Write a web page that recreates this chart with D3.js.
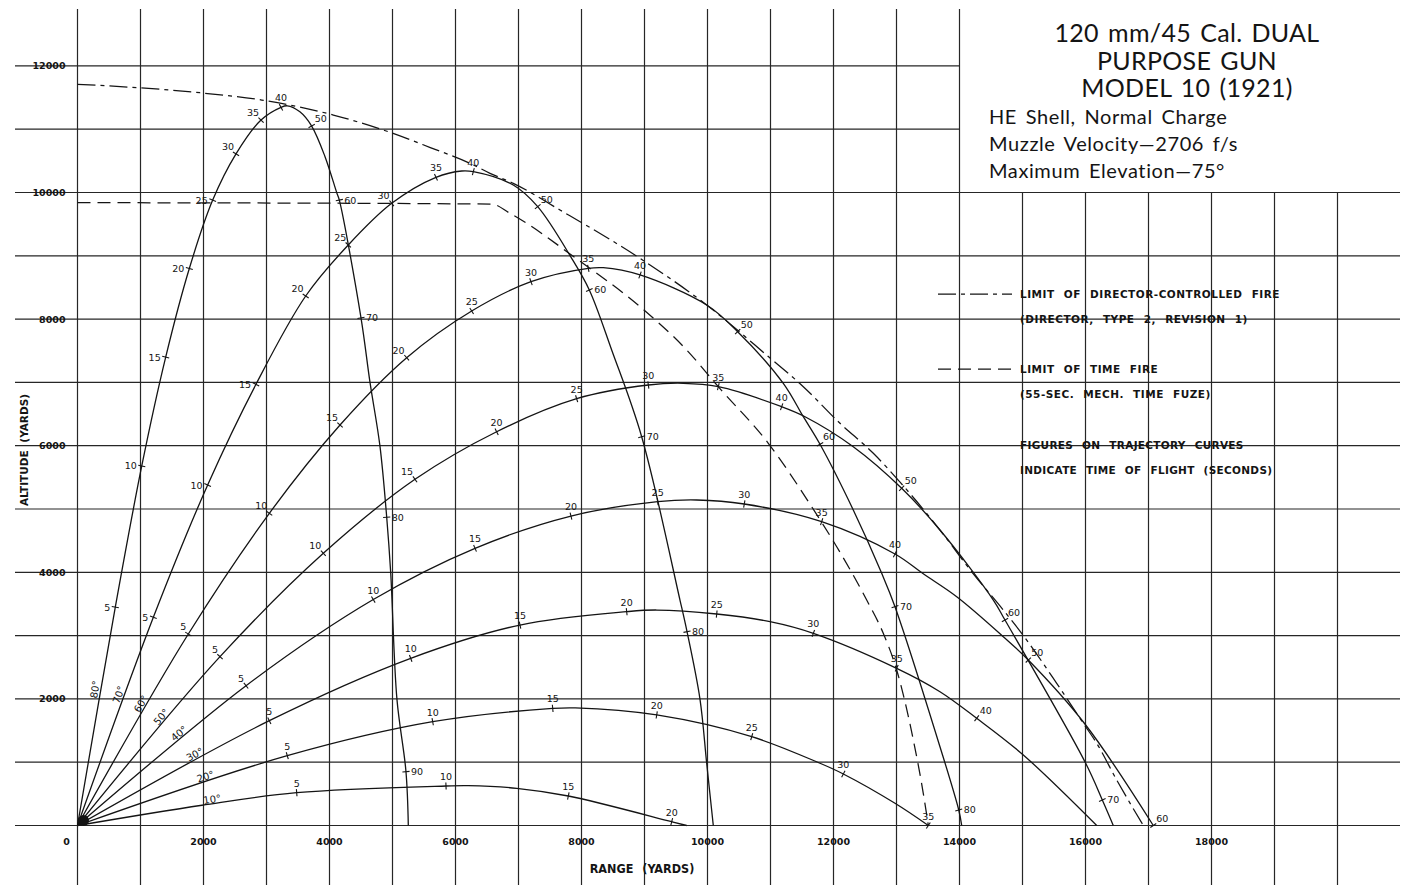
<!DOCTYPE html>
<html>
<head>
<meta charset="utf-8">
<script src="https://cdn.jsdelivr.net/npm/d3@7"></script>
<style>
  html, body { margin: 0; padding: 0; background: #fff; }
  svg { display: block; }
</style>
</head>
<body>
<svg id="chart" width="1405" height="885"></svg>
<script>
// ---- Grid and tick values (yards) ----
const gridRange = d3.range(0, 20001, 1000);
const gridAltitude = d3.range(0, 12001, 1000);
const rangeTickLabels = [0, 2000, 4000, 6000, 8000, 10000, 12000, 14000, 16000, 18000];
const altitudeTickLabels = [2000, 4000, 6000, 8000, 10000, 12000];

// ---- Trajectories: [range, altitude, time of flight (s) or null for a plain curve point] ----
const elevations = [80, 70, 60, 50, 40, 30, 20, 10];

const traj80 = [
  [0, 0, null], [600, 3450, 5], [1020, 5680, 10], [1400, 7400, 15], [1775, 8800, 20],
  [2146, 9880, 25], [2516, 10610, 30], [2913, 11145, 35], [3230, 11346, 40], [3330, 11370, null],
  [3530, 11275, null], [3717, 11050, 50], [3929, 10566, null], [4114, 10000, null], [4156, 9880, 60],
  [4500, 8020, 70], [4643, 7000, null], [4800, 6000, null], [4908, 4870, 80], [4971, 4000, null],
  [5070, 2000, null], [5214, 850, 90], [5251, 0, null]
];
const traj70 = [
  [0, 0, null], [1204, 3289, 5], [2066, 5379, 10], [2833, 6970, 15], [3622, 8365, 20],
  [4298, 9171, 25], [4987, 9829, 30], [5690, 10240, 35], [6100, 10340, null], [6283, 10329, 40],
  [6917, 10118, null], [7305, 9776, 50], [7844, 8960, null], [8124, 8460, 60], [8479, 7512, null],
  [8955, 6142, 70], [9563, 3562, null], [9675, 3062, 80], [9881, 1994, null], [9987, 983, null],
  [10092, 0, null]
];
const traj60 = [
  [0, 0, null], [1759, 3025, 5], [3045, 4932, 10], [4167, 6327, 15], [5225, 7390, 20],
  [6257, 8128, 25], [7198, 8591, 30], [8108, 8802, 35], [8346, 8812, null], [8929, 8697, 40],
  [9987, 8223, null], [10479, 7801, 50], [11203, 6986, null], [11521, 6458, null], [11786, 6022, 60],
  [12314, 4984, null], [12765, 3984, null], [12976, 3457, 70], [13690, 1245, null], [13988, 245, 80],
  [14035, 0, null]
];
const traj50 = [
  [0, 0, null], [2262, 2667, 5], [3902, 4300, 10], [5357, 5469, 15], [6653, 6221, 20],
  [7923, 6743, 25], [9061, 6959, 30], [9617, 6986, null], [10172, 6932, 35], [11177, 6616, 40],
  [11548, 6458, null], [12314, 5984, null], [13082, 5327, 50], [13690, 4668, null], [14537, 3562, null],
  [14722, 3246, 60], [16003, 983, null], [16267, 403, 70], [16441, 0, null]
];
const traj40 = [
  [0, 0, null], [2675, 2209, 5], [4695, 3570, 10], [6310, 4379, 15], [7833, 4889, 20],
  [9209, 5115, 25], [9828, 5142, null], [10584, 5079, 30], [11812, 4800, 35], [12976, 4289, 40],
  [13425, 3976, null], [13956, 3614, null], [14695, 2983, null], [15092, 2614, 50], [16003, 1588, null],
  [17076, 0, 60]
];
const traj30 = [
  [0, 0, null], [3045, 1656, 5], [5289, 2641, 10], [7024, 3167, 15], [8717, 3378, 20],
  [9194, 3404, null], [10146, 3341, 25], [10992, 3220, null], [11680, 3036, 30], [13003, 2483, 35],
  [13690, 2114, null], [14273, 1694, 40], [15013, 1114, null], [16178, 0, null]
];
const traj20 = [
  [0, 0, null], [3330, 1103, 5], [5638, 1640, 10], [7543, 1850, 15], [7900, 1858, null],
  [9194, 1746, 20], [10702, 1403, 25], [11786, 983, null], [12156, 814, 30], [12976, 351, null],
  [13505, 0, 35]
];
const traj10 = [
  [0, 0, null], [1976, 320, null], [3479, 518, 5], [5849, 624, 10], [6200, 630, null],
  [6971, 588, null], [7791, 466, 15], [9432, 60, 20], [9670, 0, null]
];
const trajectories = [traj80, traj70, traj60, traj50, traj40, traj30, traj20, traj10];

// ---- Fire limits: [range, altitude] ----
const directorLimit = [
  [0, 11710], [1944, 11576], [2924, 11461], [4061, 11224], [4934, 10960], [5600, 10710],
  [6230, 10461], [6548, 10303], [6917, 10145], [7659, 9723], [8929, 8960], [9987, 8223],
  [10965, 7409], [11521, 6932], [12103, 6354], [12632, 5880], [13060, 5420], [13690, 4668],
  [14200, 4000], [14695, 3404], [14987, 3036], [15543, 2246], [15965, 1615], [16178, 1299],
  [16495, 719], [16918, 0]
];
const timeFireLimit = [
  [0, 9840], [6575, 9818], [6865, 9671], [7949, 8934], [8929, 8196], [9670, 7512],
  [10171, 6932], [10965, 6038], [11654, 5036], [12051, 4404], [12527, 3562], [12790, 3036],
  [13003, 2457], [13267, 1351], [13425, 509], [13505, 0]
];

// Small dark hub where all trajectories leave the gun
const originHub = [95, 80];

// ---- Texts ----
const titleLines = ["120 mm/45 Cal. DUAL", "PURPOSE GUN", "MODEL 10 (1921)"];
const subtitleLines = ["HE Shell, Normal Charge", "Muzzle Velocity\u20142706 f/s", "Maximum Elevation\u201475\u00B0"];
const legendEntries = [
  { label: "LIMIT OF DIRECTOR-CONTROLLED FIRE", note: "(DIRECTOR, TYPE 2, REVISION 1)", kind: "director" },
  { label: "LIMIT OF TIME FIRE", note: "(55-SEC. MECH. TIME FUZE)", kind: "time" }
];
const footnoteLines = ["FIGURES ON TRAJECTORY CURVES", "INDICATE TIME OF FLIGHT (SECONDS)"];

// ---- Drawing ----
const W = 1405, H = 885;
const ink = "#141414";
const dashStyles = { director: "18,5,4,5", time: "13,7" };

const svg = d3.select("#chart");
svg.append("rect").attr("width", W).attr("height", H).attr("fill", "#fff");

const x = d3.scaleLinear().domain([0, 20000]).range([77.5, 1337.5]);
const y = d3.scaleLinear().domain([0, 12000]).range([825.5, 65.9]);

// Grid (the upper right block is left open for the title)
const grid = svg.append("g").attr("stroke", "#262626").attr("stroke-width", 1.2).attr("fill", "none");
grid.selectAll("line.v").data(gridRange).join("line").attr("class", "v")
  .attr("x1", d => x(d)).attr("x2", d => x(d))
  .attr("y1", d => d > 14000 ? y(10000) : 9)
  .attr("y2", H);
grid.selectAll("line.h").data(gridAltitude).join("line").attr("class", "h")
  .attr("x1", 15).attr("x2", d => d > 10000 ? x(14000) : 1400)
  .attr("y1", d => y(d)).attr("y2", d => y(d));

// Axis numbers
const axisFont = "'DejaVu Sans', sans-serif";
svg.append("g").selectAll("text").data(altitudeTickLabels).join("text")
  .attr("x", x(0) - 12).attr("y", d => y(d))
  .attr("dy", "0.36em").attr("text-anchor", "end")
  .attr("font-family", axisFont).attr("font-weight", "bold").attr("font-size", 9.5)
  .attr("fill", ink).text(d => d);
svg.append("g").selectAll("text").data(rangeTickLabels).join("text")
  .attr("x", d => d === 0 ? x(0) - 11 : x(d)).attr("y", 845)
  .attr("text-anchor", "middle")
  .attr("font-family", axisFont).attr("font-weight", "bold").attr("font-size", 9.5)
  .attr("fill", ink).text(d => d);

svg.append("text")
  .attr("transform", "translate(28,450) rotate(-90)")
  .attr("text-anchor", "middle")
  .attr("font-family", axisFont).attr("font-weight", "bold").attr("font-size", 10.5)
  .attr("word-spacing", 4).attr("fill", ink)
  .text("ALTITUDE (YARDS)");
svg.append("text")
  .attr("x", 642).attr("y", 873).attr("text-anchor", "middle")
  .attr("font-family", "'DejaVu Sans Condensed', 'DejaVu Sans', sans-serif")
  .attr("font-weight", "bold").attr("font-size", 12.5)
  .attr("word-spacing", 5).attr("fill", ink)
  .text("RANGE (YARDS)");

// Fire limit envelopes
const envLine = d3.line().x(d => x(d[0])).y(d => y(d[1])).curve(d3.curveMonotoneX);
svg.append("path").datum(directorLimit)
  .attr("d", envLine).attr("fill", "none").attr("stroke", ink)
  .attr("stroke-width", 1.25).attr("stroke-dasharray", dashStyles.director);
svg.append("path").datum(timeFireLimit)
  .attr("d", envLine).attr("fill", "none").attr("stroke", ink)
  .attr("stroke-width", 1.25).attr("stroke-dasharray", dashStyles.time);

// Trajectories
const trajLine = d3.line().x(d => x(d[0])).y(d => y(d[1])).curve(d3.curveCatmullRom.alpha(0.5));
const trajG = svg.append("g");
trajG.selectAll("path").data(trajectories).join("path")
  .attr("d", trajLine).attr("fill", "none").attr("stroke", ink).attr("stroke-width", 1.3);

svg.append("circle")
  .attr("cx", x(originHub[0])).attr("cy", y(originHub[1])).attr("r", 5.5)
  .attr("fill", ink);

// Time-of-flight marks and numbers
const markG = svg.append("g");
trajectories.forEach(pts => {
  pts.forEach((p, i) => {
    if (p[2] === null) return;
    const a = pts[Math.max(0, i - 1)], b = pts[Math.min(pts.length - 1, i + 1)];
    const dx = x(b[0]) - x(a[0]), dy = y(b[1]) - y(a[1]);
    const len = Math.hypot(dx, dy);
    const tx = dx / len, ty = dy / len;
    const px = x(p[0]), py = y(p[1]);
    const ang = Math.atan2(-dy, dx) * 180 / Math.PI;
    markG.append("line")
      .attr("x1", px - ty * 3.6).attr("y1", py + tx * 3.6)
      .attr("x2", px + ty * 3.6).attr("y2", py - tx * 3.6)
      .attr("stroke", ink).attr("stroke-width", 1.1);
    let ox, oy, anchor;
    if (ang > 62) { ox = -5; oy = 3.5; anchor = "end"; }
    else if (ang > 35) { ox = -2; oy = -4; anchor = "end"; }
    else if (ang >= -35) { ox = 0; oy = -6; anchor = "middle"; }
    else if (ang >= -62) { ox = 3; oy = -4; anchor = "start"; }
    else { ox = 5; oy = 3.5; anchor = "start"; }
    markG.append("text")
      .attr("x", px + ox).attr("y", py + oy)
      .attr("text-anchor", anchor)
      .attr("font-family", axisFont).attr("font-size", 9.5)
      .attr("fill", ink).text(p[2]);
  });
});

// Elevation labels along the launch lines
trajectories.forEach((pts, k) => {
  const first = pts.find(p => p[2] !== null);
  const x0 = x(0), y0 = y(0);
  const vx = x(first[0]) - x0, vy = y(first[1]) - y0;
  const len = Math.hypot(vx, vy);
  const ux = vx / len, uy = vy / len;
  const d = 137;
  const lx = x0 + ux * d + uy * 6;
  const ly = y0 + uy * d - ux * 6;
  const rot = Math.atan2(uy, ux) * 180 / Math.PI;
  svg.append("text")
    .attr("transform", `translate(${lx},${ly}) rotate(${rot})`)
    .attr("text-anchor", "middle").attr("dy", "0.35em")
    .attr("font-family", axisFont).attr("font-size", 10)
    .attr("fill", ink).text(elevations[k] + "\u00B0");
});

// Title block
const titleFont = "Lato, 'Open Sans', sans-serif";
svg.append("g").selectAll("text").data(titleLines).join("text")
  .attr("x", 1187).attr("y", (d, i) => 42 + i * 27.5)
  .attr("text-anchor", "middle")
  .attr("font-family", titleFont).attr("font-size", 25)
  .attr("letter-spacing", 0.3).attr("word-spacing", 2.5)
  .attr("fill", ink).text(d => d);
svg.append("g").selectAll("text").data(subtitleLines).join("text")
  .attr("x", 989).attr("y", (d, i) => 124 + i * 27.2)
  .attr("font-family", titleFont).attr("font-size", 20)
  .attr("letter-spacing", 0.6).attr("word-spacing", 3).attr("fill", ink).text(d => d);

// Legend
const legendFont = "'DejaVu Sans', sans-serif";
legendEntries.forEach((e, i) => {
  const by = i === 0 ? 294 : 369;
  svg.append("line")
    .attr("x1", 938).attr("x2", 1012).attr("y1", by).attr("y2", by)
    .attr("stroke", ink).attr("stroke-width", 1.25)
    .attr("stroke-dasharray", dashStyles[e.kind]);
  svg.append("text")
    .attr("x", 1020).attr("y", by + 4)
    .attr("font-family", legendFont).attr("font-weight", "bold").attr("font-size", 10.5)
    .attr("letter-spacing", 0.5).attr("word-spacing", 5).attr("fill", ink).text(e.label);
  svg.append("text")
    .attr("x", 1020).attr("y", by + 29)
    .attr("font-family", legendFont).attr("font-weight", "bold").attr("font-size", 10.5)
    .attr("letter-spacing", 0.5).attr("word-spacing", 5).attr("fill", ink).text(e.note);
});
svg.append("g").selectAll("text").data(footnoteLines).join("text")
  .attr("x", 1020).attr("y", (d, i) => 449 + i * 25)
  .attr("font-family", legendFont).attr("font-weight", "bold").attr("font-size", 10.5)
  .attr("letter-spacing", 0.3).attr("word-spacing", 5).attr("fill", ink).text(d => d);
</script>
</body>
</html>
